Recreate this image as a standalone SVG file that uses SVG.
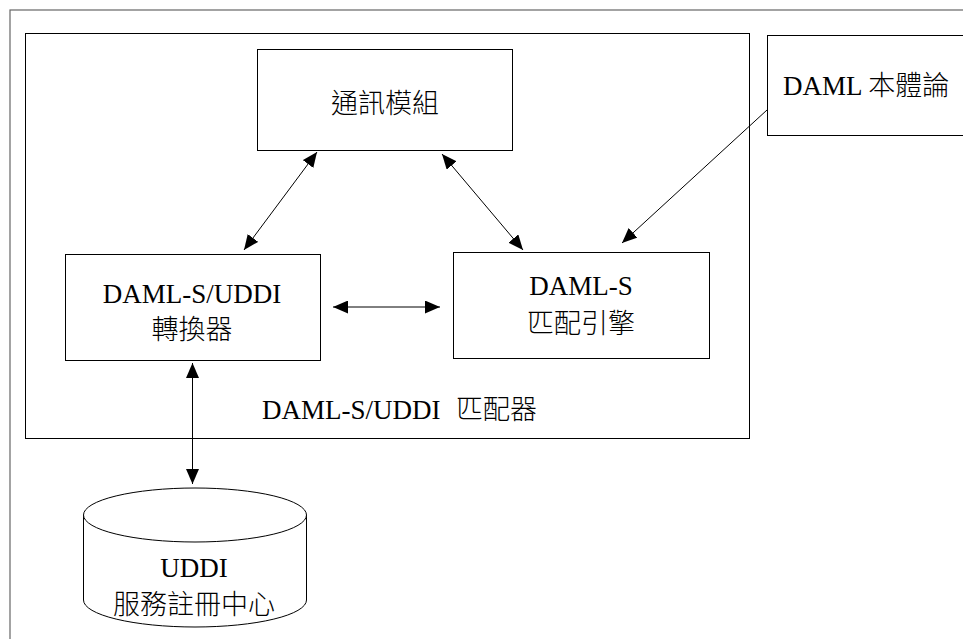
<svg xmlns="http://www.w3.org/2000/svg" width="963" height="639" viewBox="0 0 963 639">
  <style>
    .box { fill: #fff; stroke: #000; stroke-width: 1; }
    .frame { fill: none; stroke: #666; stroke-width: 1.2; }
    .lbl { font-family: "Liberation Serif", "Noto Sans CJK TC", serif; font-size: 27px; fill: #000; }
    .cjk { font-family: "Noto Sans CJK TC", sans-serif; font-weight: 300; font-size: 27px; fill: #000; }
    .mid { text-anchor: middle; }
    .conn { stroke: #000; stroke-width: 1; fill: none; }
    .one { marker-end: url(#head); }
    .two { marker-start: url(#head); marker-end: url(#head); }
  </style>
  <defs>
    <marker id="head" markerUnits="userSpaceOnUse" markerWidth="15" markerHeight="13" refX="15" refY="6.5" orient="auto-start-reverse">
      <path d="M0,0 L15,6.5 L0,13 z" fill="#000"/>
    </marker>
  </defs>
  <rect width="963" height="639" fill="#fff"/>

  <!-- outer page frame, open to the right and bottom -->
  <rect class="frame" x="10" y="10" width="1000" height="700"/>

  <!-- matcher container -->
  <g id="matcher">
    <rect class="box" x="25.5" y="33.5" width="724" height="405"/>
    <text class="lbl" x="262" y="419">DAML-S/UDDI</text>
    <text class="cjk" x="456" y="419">匹配器</text>
  </g>

  <g id="comm">
    <rect class="box" x="257.5" y="49.5" width="255" height="101"/>
    <text class="cjk mid" x="385" y="113">通訊模組</text>
  </g>

  <g id="ontology">
    <rect class="box" x="767.5" y="35.5" width="220" height="100"/>
    <text class="lbl" x="783" y="95">DAML <tspan class="cjk">本體論</tspan></text>
  </g>

  <g id="converter">
    <rect class="box" x="65.5" y="254.5" width="255" height="106"/>
    <text class="lbl mid" x="192" y="303">DAML-S/UDDI</text>
    <text class="cjk mid" x="192" y="339">轉換器</text>
  </g>

  <g id="engine">
    <rect class="box" x="453.5" y="252.5" width="256" height="106"/>
    <text class="lbl mid" x="581" y="295">DAML-S</text>
    <text class="cjk mid" x="581" y="333">匹配引擎</text>
  </g>

  <g id="registry">
    <path class="box" d="M83.5,515 L83.5,600 A111.5,27 0 0 0 306.5,600 L306.5,515"/>
    <ellipse class="box" cx="195" cy="515" rx="111.5" ry="27"/>
    <text class="lbl mid" x="194" y="577">UDDI</text>
    <text class="cjk mid" x="194" y="614">服務註冊中心</text>
  </g>

  <g id="connectors">
    <line class="conn two" x1="317" y1="152" x2="244" y2="250"/>
    <line class="conn two" x1="442" y1="154" x2="523" y2="250"/>
    <line class="conn one" x1="767" y1="110" x2="622" y2="243"/>
    <line class="conn two" x1="333" y1="307" x2="440" y2="307"/>
    <line class="conn two" x1="192.5" y1="363" x2="192.5" y2="484"/>
  </g>
</svg>
